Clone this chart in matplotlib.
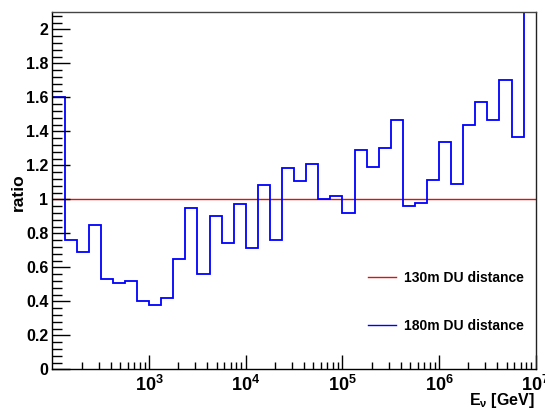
import numpy as np
import matplotlib
matplotlib.use("Agg")
import matplotlib.pyplot as plt
from matplotlib.ticker import LogLocator, MultipleLocator, NullFormatter

plt.rcParams['font.family'] = ['Liberation Sans', 'DejaVu Sans']
plt.rcParams['font.weight'] = 'bold'
plt.rcParams['mathtext.fontset'] = 'custom'
plt.rcParams['mathtext.rm'] = 'Liberation Sans:bold'
plt.rcParams['mathtext.it'] = 'Liberation Sans:bold'
plt.rcParams['mathtext.bf'] = 'Liberation Sans:bold'

# bin edges in log10(E/GeV): 40 bins, 8 per decade, 10^2 .. 10^7
log_edges = np.linspace(2.0, 7.0, 41)

# ratio for 180m DU distance
ratio_180 = [1.60, 0.76, 0.69, 0.85, 0.53, 0.51, 0.52, 0.40,
             0.38, 0.42, 0.65, 0.95, 0.56, 0.90, 0.745, 0.97,
             0.715, 1.085, 0.76, 1.185, 1.11, 1.21, 1.00, 1.02,
             0.92, 1.29, 1.19, 1.30, 1.465, 0.96, 0.98, 1.115,
             1.335, 1.09, 1.44, 1.575, 1.47, 1.70, 1.37, 2.60]
# 130m DU distance is the reference -> ratio 1
ratio_130 = [1.0] * 40

x_major = [1e3, 1e4, 1e5, 1e6, 1e7]
x_labels = [r'$10^{3}$', r'$10^{4}$', r'$10^{5}$', r'$10^{6}$', r'$10^{7}$']
y_major = [0, 0.2, 0.4, 0.6, 0.8, 1.0, 1.2, 1.4, 1.6, 1.8, 2.0]
y_labels = ['0', '0.2', '0.4', '0.6', '0.8', '1', '1.2', '1.4', '1.6', '1.8', '2']

fig = plt.figure(figsize=(5.45, 4.12), dpi=100)
ax = fig.add_axes([0.0963, 0.1036, 0.983 - 0.0963, 0.9697 - 0.1036])

edges = 10 ** log_edges
ax.stairs(ratio_130, edges, color='#e01010', lw=1.0, baseline=None, label='130m DU distance')
ax.stairs(ratio_180, edges, color='#0000ff', lw=1.3, baseline=None, label='180m DU distance')

ax.set_xscale('log')
ax.set_xlim(1e2, 1e7)
ax.set_ylim(0, 2.1)

ax.set_xticks(x_major)
ax.set_xticklabels(x_labels)
ax.xaxis.set_minor_locator(LogLocator(base=10, subs=np.arange(2, 10), numticks=20))
ax.xaxis.set_minor_formatter(NullFormatter())
ax.set_yticks(y_major)
ax.set_yticklabels(y_labels)
ax.yaxis.set_minor_locator(MultipleLocator(0.04))

ax.tick_params(axis='both', which='both', direction='in', top=False, right=False)
ax.tick_params(axis='y', which='major', length=13, width=1, labelsize=11.5, pad=3)
ax.tick_params(axis='y', which='minor', length=7, width=1)
ax.tick_params(axis='x', which='major', length=10, width=1, labelsize=13, pad=4)
ax.tick_params(axis='x', which='minor', length=5, width=1)
for lab in ax.get_xticklabels() + ax.get_yticklabels():
    lab.set_fontweight('bold')
for sp in ax.spines.values():
    sp.set_linewidth(1.0)
ax.spines['top'].set_color('#444444')
ax.spines['right'].set_color('#222222')

fig.text(18 / 545, 1 - 192 / 412, 'ratio', rotation=90, ha='center', va='center',
         fontsize=12.5, fontweight='bold')
fig.text(535 / 545, 1 - 401 / 412, r'E$_{\nu}$ [GeV]', ha='right', va='center',
         fontsize=11.5, fontweight='bold')

leg = ax.legend(loc='upper left', bbox_to_anchor=(368 / 545, 1 - 271 / 412),
                bbox_transform=fig.transFigure, frameon=False, fontsize=10,
                handlelength=2.0, handletextpad=0.6, labelspacing=2.45,
                borderpad=0, borderaxespad=0)
for t in leg.get_texts():
    t.set_fontweight('bold')
for h in leg.get_lines():
    h.set_linewidth(1.0)

fig.savefig('out.png', dpi=100)
